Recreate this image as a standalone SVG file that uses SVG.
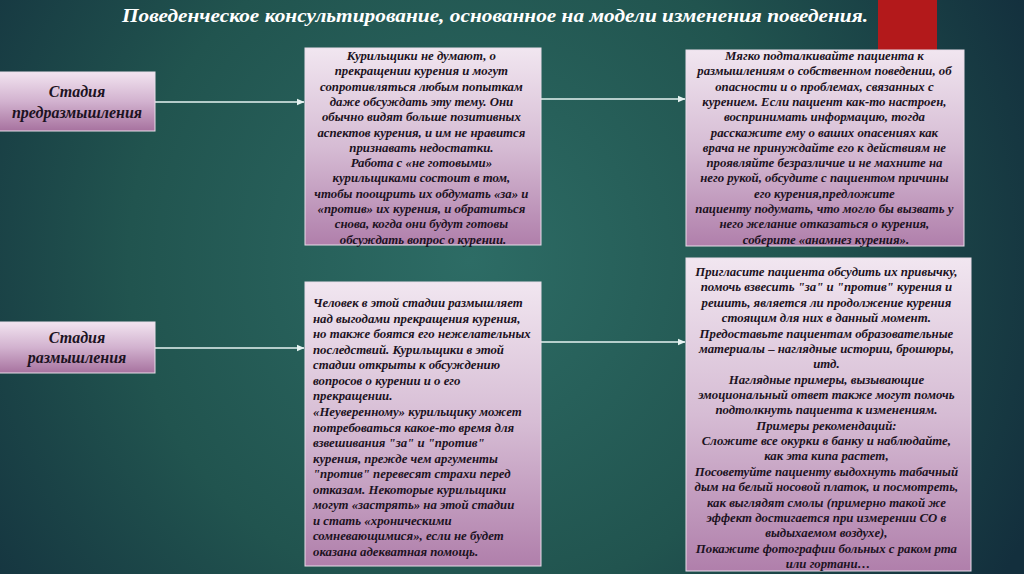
<svg xmlns="http://www.w3.org/2000/svg" width="1024" height="574" viewBox="0 0 1024 574">
<defs>
<radialGradient id="bg" cx="470" cy="260" r="620" gradientUnits="userSpaceOnUse">
<stop offset="0" stop-color="#2d6c65"/>
<stop offset="0.55" stop-color="#21544f"/>
<stop offset="1" stop-color="#132f3d"/>
</radialGradient>
<linearGradient id="box" x1="0" y1="0" x2="0" y2="1">
<stop offset="0" stop-color="#f1e6f0"/>
<stop offset="0.5" stop-color="#d6bcd4"/>
<stop offset="1" stop-color="#b07fab"/>
</linearGradient>
<linearGradient id="stage" x1="0" y1="0" x2="0" y2="1">
<stop offset="0" stop-color="#f2e4f0"/>
<stop offset="0.5" stop-color="#d2b2cf"/>
<stop offset="1" stop-color="#a7729f"/>
</linearGradient>
<marker id="ah" markerWidth="8" markerHeight="8" refX="7" refY="4" orient="auto" markerUnits="userSpaceOnUse">
<path d="M0,0.8 L7.5,4 L0,7.2 Z" fill="#e6f3f2"/>
</marker>
</defs>
<style>
.b{stroke:#e9dde9;stroke-width:1}
.t{font-family:"Liberation Serif","DejaVu Serif",serif;font-weight:bold;font-style:italic;fill:#1c1222}
.c{text-anchor:middle}
.s{font-size:16px}
.m{font-size:12.8px}
.cn{stroke:#e6f3f2;stroke-width:1.6;fill:none;marker-end:url(#ah)}
</style>
<rect x="0" y="0" width="1024" height="574" fill="url(#bg)"/>
<rect x="878" y="0" width="59" height="52" fill="#b3191b"/>
<text x="122" y="22" textLength="746" lengthAdjust="spacingAndGlyphs" style="font-family:'Liberation Serif',serif;font-weight:bold;font-style:italic;font-size:19px;fill:#ffffff">Поведенческое консультирование, основанное на модели изменения поведения.</text>

<g id="connectors">
<line class="cn" x1="155" y1="102" x2="304" y2="102"/>
<line class="cn" x1="541" y1="99" x2="685" y2="99"/>
<line class="cn" x1="155" y1="348" x2="304" y2="348"/>
<line class="cn" x1="541" y1="342" x2="685" y2="342"/>
</g>

<g id="stage1">
<rect class="b" x="-1" y="72" width="156" height="59" fill="url(#stage)"/>
<text class="t c s" x="77" y="97">Стадия</text>
<text class="t c s" x="77" y="118">предразмышления</text>
</g>

<g id="stage2">
<rect class="b" x="-1" y="322" width="156" height="51" fill="url(#stage)"/>
<text class="t c s" x="77" y="343">Стадия</text>
<text class="t c s" x="77" y="363">размышления</text>
</g>

<g id="box1">
<rect class="b" x="305" y="48" width="236" height="197" fill="url(#box)"/>
<text class="t c m" x="423">
<tspan x="423" y="60">Курильщики не думают, о</tspan>
<tspan x="423" y="75.3">прекращении курения и могут</tspan>
<tspan x="423" y="90.6">сопротивляться любым попыткам</tspan>
<tspan x="423" y="105.9">даже обсуждать эту тему. Они</tspan>
<tspan x="423" y="121.2">обычно видят больше позитивных</tspan>
<tspan x="423" y="136.5">аспектов курения, и им не нравится</tspan>
<tspan x="423" y="151.8">признавать недостатки.</tspan>
<tspan x="423" y="167.1">Работа с «не готовыми»</tspan>
<tspan x="423" y="182.4">курильщиками состоит в том,</tspan>
<tspan x="423" y="197.7">чтобы поощрить их обдумать «за» и</tspan>
<tspan x="423" y="213">«против» их курения, и обратиться</tspan>
<tspan x="423" y="228.3">снова, когда они будут готовы</tspan>
<tspan x="423" y="243.6">обсуждать вопрос о курении.</tspan>
</text>
</g>

<g id="box2">
<rect class="b" x="686" y="50" width="278" height="196" fill="url(#box)"/>
<text class="t c m" x="826">
<tspan x="826" y="60">Мягко подталкивайте пациента к</tspan>
<tspan x="826" y="75.3">размышлениям о собственном поведении, об</tspan>
<tspan x="826" y="90.6">опасности и о проблемах, связанных с</tspan>
<tspan x="826" y="105.9">курением. Если пациент как-то настроен,</tspan>
<tspan x="826" y="121.2">воспринимать информацию, тогда</tspan>
<tspan x="826" y="136.5">расскажите ему о ваших опасениях как</tspan>
<tspan x="826" y="151.8">врача не принуждайте его к действиям не</tspan>
<tspan x="826" y="167.1">проявляйте безразличие и не махните на</tspan>
<tspan x="826" y="182.4">него рукой, обсудите с пациентом причины</tspan>
<tspan x="826" y="197.7">его курения,предложите</tspan>
<tspan x="826" y="213">пациенту подумать, что могло бы вызвать у</tspan>
<tspan x="826" y="228.3">него желание отказаться о курения,</tspan>
<tspan x="826" y="243.6">соберите «анамнез курения».</tspan>
</text>
</g>

<g id="box3">
<rect class="b" x="305" y="282" width="236" height="284" fill="url(#box)"/>
<text class="t m" x="313">
<tspan x="313" y="307">Человек в этой стадии размышляет</tspan>
<tspan x="313" y="322.6">над выгодами прекращения курения,</tspan>
<tspan x="313" y="338.1">но также боятся его нежелательных</tspan>
<tspan x="313" y="353.7">последствий. Курильщики в этой</tspan>
<tspan x="313" y="369.2">стадии открыты к обсуждению</tspan>
<tspan x="313" y="384.8">вопросов о курении и о его</tspan>
<tspan x="313" y="400.4">прекращении.</tspan>
<tspan x="313" y="415.9">«Неуверенному» курильщику может</tspan>
<tspan x="313" y="431.5">потребоваться какое-то время для</tspan>
<tspan x="313" y="447">взвешивания "за" и "против"</tspan>
<tspan x="313" y="462.6">курения, прежде чем аргументы</tspan>
<tspan x="313" y="478.2">"против" перевесят страхи перед</tspan>
<tspan x="313" y="493.7">отказам. Некоторые курильщики</tspan>
<tspan x="313" y="509.3">могут «застрять» на этой стадии</tspan>
<tspan x="313" y="524.8">и стать «хроническими</tspan>
<tspan x="313" y="540.4">сомневающимися», если не будет</tspan>
<tspan x="313" y="556">оказана адекватная помощь.</tspan>
</text>
</g>

<g id="box4">
<rect class="b" x="686" y="258" width="285" height="313" fill="url(#box)"/>
<text class="t c m" x="828">
<tspan x="828" y="276">Пригласите пациента обсудить их привычку,</tspan>
<tspan x="828" y="291.4">помочь взвесить "за" и "против" курения и</tspan>
<tspan x="828" y="306.7">решить, является ли продолжение курения</tspan>
<tspan x="828" y="322.1">стоящим для них в данный момент.</tspan>
<tspan x="828" y="337.5">Предоставьте пациентам образовательные</tspan>
<tspan x="828" y="352.8">материалы – наглядные истории, брошюры,</tspan>
<tspan x="828" y="368.2">итд.</tspan>
<tspan x="828" y="383.6">Наглядные примеры, вызывающие</tspan>
<tspan x="828" y="398.9">эмоциональный ответ также могут помочь</tspan>
<tspan x="828" y="414.3">подтолкнуть пациента к изменениям.</tspan>
<tspan x="828" y="429.7">Примеры рекомендаций:</tspan>
<tspan x="828" y="445">Сложите все окурки в банку и наблюдайте,</tspan>
<tspan x="828" y="460.4">как эта кипа растет,</tspan>
<tspan x="828" y="475.8">Посоветуйте пациенту выдохнуть табачный</tspan>
<tspan x="828" y="491.1">дым на белый носовой платок, и посмотреть,</tspan>
<tspan x="828" y="506.5">как выглядят смолы (примерно такой же</tspan>
<tspan x="828" y="521.9">эффект достигается при измерении CO в</tspan>
<tspan x="828" y="537.2">выдыхаемом воздухе),</tspan>
<tspan x="828" y="552.6">Покажите фотографии больных с раком рта</tspan>
<tspan x="828" y="568">или гортани…</tspan>
</text>
</g>
</svg>
